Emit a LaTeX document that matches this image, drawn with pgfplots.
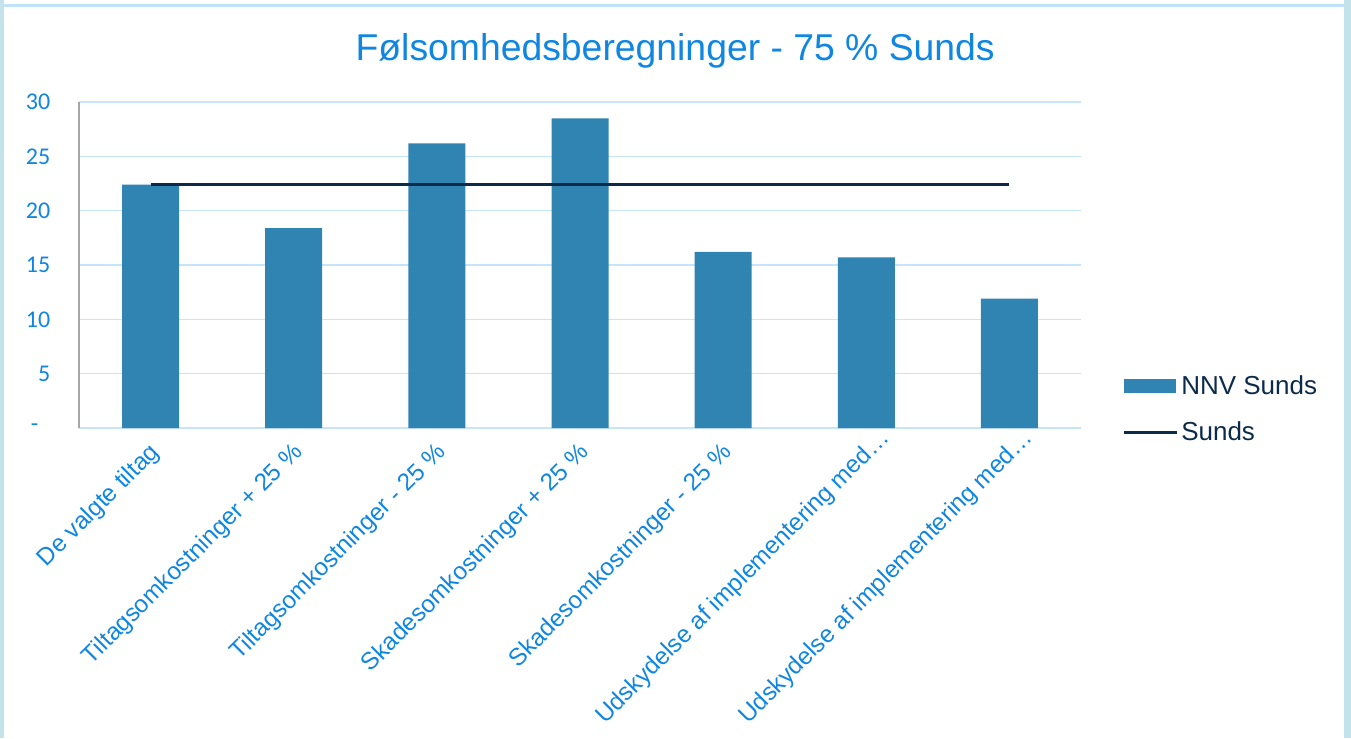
\documentclass[border=0pt]{standalone}
\usepackage{fontspec}
\usepackage{pgfplots}
\pgfplotsset{compat=1.18}
\setmainfont{Liberation Sans}
\newfontfamily\carlito{Carlito}

\definecolor{barblue}{HTML}{3084B2}
\definecolor{navy}{HTML}{0C2B4B}
\definecolor{txtblue}{HTML}{0F86E2}
\definecolor{gridblue}{HTML}{C6E4FA}
\definecolor{frameblue}{HTML}{C4E2E9}
\definecolor{topline}{HTML}{C0E2FB}

\begin{document}
\begin{tikzpicture}
% page frame (1px = 0.75pt, axis origin at pixel (79,428))
\path[use as bounding box, fill=white] (-59.25pt,321pt) rectangle (954pt,-232.5pt);
\fill[frameblue] (-59.25pt,321pt) rectangle (-56.25pt,-232.5pt);
\fill[frameblue] (948.75pt,321pt) rectangle (954pt,-232.5pt);
\fill[topline] (-56.25pt,318pt) rectangle (948.75pt,316pt);

\begin{axis}[
    at={(0pt,0pt)}, anchor=south west,
    scale only axis,
    width=751.5pt, height=244.5pt,
    xmin=-0.5, xmax=6.5,
    ymin=0, ymax=30,
    axis lines*=left,
    x axis line style={draw=gridblue, line width=1.1pt},
    y axis line style={draw=gray!70, line width=0.8pt},
    tick style={draw=none},
    ymajorgrids,
    grid style={draw=gridblue, line width=1.1pt},
    ytick={0,5,10,15,20,25,30},
    yticklabels={{-\rule{9pt}{0pt}},5,10,15,20,25,30},
    yticklabel style={font=\carlito\fontsize{18}{21}\selectfont, text=txtblue, xshift=-18pt},
    xtick={0,1,2,3,4,5,6},
    xticklabels={De valgte tiltag,
                 Tiltagsomkostninger + 25 \%,
                 Tiltagsomkostninger - 25 \%,
                 Skadesomkostninger + 25 \%,
                 Skadesomkostninger - 25 \%,
                 Udskydelse af implementering med…\kern-15pt,
                 Udskydelse af implementering med…\kern-15pt},
    % shifts act in the rotated frame
    xticklabel style={font=\fontsize{18.2}{22}\selectfont, text=txtblue, rotate=45, anchor=north east, inner sep=1pt, xshift=-7.2pt, yshift=-4.4pt},
    title={Følsomhedsberegninger - 75 \% Sunds},
    title style={font=\fontsize{28}{32}\selectfont, text=txtblue, at={(0.595,1.132)}, anchor=center},
    legend style={at={(1.037,0.178)}, anchor=north west, draw=none, fill=none,
        font=\fontsize{19.5}{23}\selectfont, text=navy, row sep=15pt,
        nodes={inner sep=2pt}},
    legend cell align=left,
]
\addplot[ybar, bar width=42.75pt, bar shift=0pt, fill=barblue, draw=none,
    legend image code/.code={\fill[barblue] (0pt,-5.25pt) rectangle (39pt,5.25pt);}]
coordinates {
    (0,22.4) (1,18.4) (2,26.2) (3,28.5) (4,16.2) (5,15.7) (6,11.9)
};
\addlegendentry{NNV Sunds}
\addplot[sharp plot, navy, line width=2.2pt,
    legend image code/.code={\draw[navy, line width=2.2pt] (0pt,0pt) -- (40pt,0pt);}]
coordinates {
    (0,22.4) (6,22.4)
};
\addlegendentry{Sunds}
\end{axis}
\end{tikzpicture}
\end{document}
